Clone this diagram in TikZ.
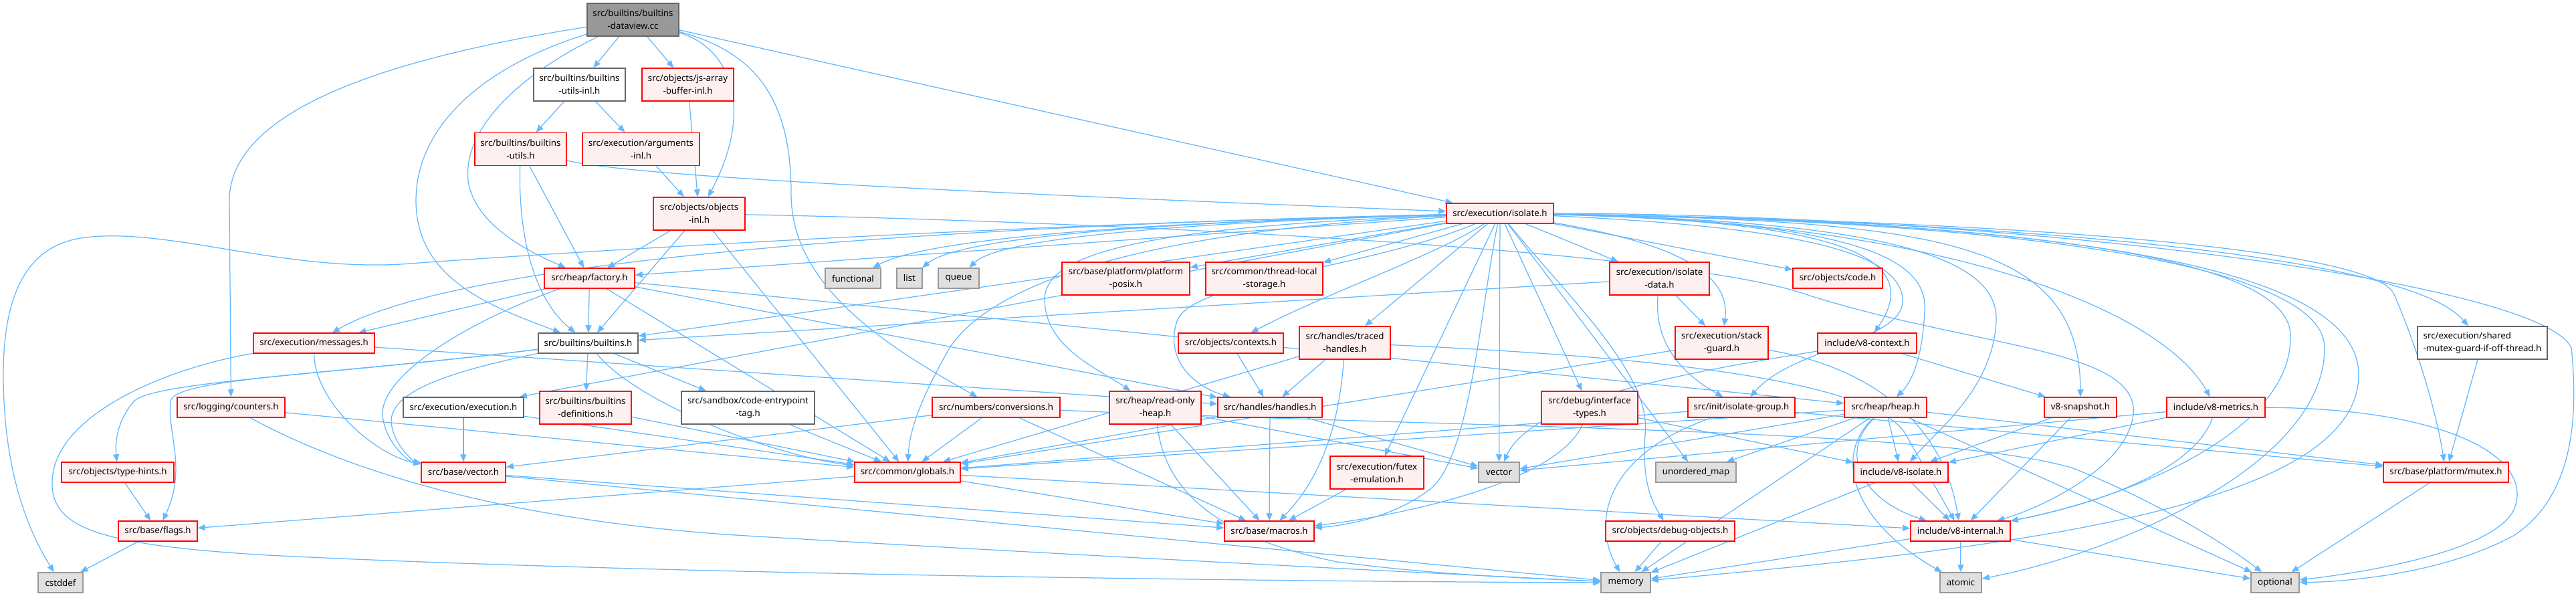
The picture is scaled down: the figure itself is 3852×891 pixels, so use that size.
\documentclass[tikz,border=0pt]{standalone}
\usepackage{fontspec}
\newfontfamily\nf{Noto Sans}
\usetikzlibrary{arrows.meta}
\definecolor{edgec}{HTML}{63B8FF}
\definecolor{hdrfill}{HTML}{FFF0F0}
\definecolor{hdrdraw}{HTML}{FF0000}
\definecolor{sysfill}{HTML}{E0E0E0}
\definecolor{sysdraw}{HTML}{999999}
\definecolor{docdraw}{HTML}{666666}
\definecolor{rootfill}{HTML}{999999}
\pgfdeclarelayer{bg}
\pgfsetlayers{bg,main}
\newcommand\nodefont{\nf\fontsize{13.3pt}{19pt}\selectfont}
\tikzset{
  box/.style={rectangle, inner sep=0pt, line width=1.5pt, font=\nodefont, align=center},
  hdr/.style={box, draw=hdrdraw, fill=hdrfill},
  sys/.style={box, draw=sysdraw, fill=sysfill},
  doc/.style={box, draw=docdraw, fill=white},
  rootn/.style={box, draw=docdraw, fill=rootfill},
  e/.style={draw=edgec, line width=1.25pt, -{Triangle[length=11pt,width=9pt]}},
}
\begin{document}
\begin{tikzpicture}[x=1pt,y=-1pt]
\useasboundingbox (0,0) rectangle (3852,891);
% row 0
\node[rootn, minimum width=137pt, minimum height=49pt] (root) at (946.5,29.5) {src/builtins/builtins\\-dataview.cc};
% row 1
\node[doc, minimum width=137pt, minimum height=49pt] (bui) at (866.5,126.5) {src/builtins/builtins\\-utils-inl.h};
\node[hdr, minimum width=137pt, minimum height=49pt] (jsab) at (1028.5,126.5) {src/objects/js-array\\-buffer-inl.h};
% row 2
\node[hdr, minimum width=137pt, minimum height=49pt] (bu) at (778.5,223) {src/builtins/builtins\\-utils.h};
\node[hdr, minimum width=175pt, minimum height=49pt] (argi) at (958.5,223) {src/execution/arguments\\-inl.h};
% row 3
\node[hdr, minimum width=137pt, minimum height=49pt] (objinl) at (1045.5,319.5) {src/objects/objects\\-inl.h};
\node[hdr, minimum width=160pt, minimum height=30pt] (isolate) at (2243,319) {src/execution/isolate.h};
% row 4
\node[hdr, minimum width=135pt, minimum height=30pt] (factory) at (881.5,416) {src/heap/factory.h};
\node[sys, minimum width=83pt, minimum height=30pt] (functional) at (1275.5,416) {functional};
\node[sys, minimum width=38pt, minimum height=30pt] (list) at (1360,416) {list};
\node[sys, minimum width=61pt, minimum height=30pt] (queue) at (1433.5,416) {queue};
\node[hdr, minimum width=191pt, minimum height=49pt] (posix) at (1683.5,416.5) {src/base/platform/platform\\-posix.h};
\node[hdr, minimum width=175pt, minimum height=49pt] (tls) at (1890.5,416.5) {src/common/thread-local\\-storage.h};
\node[hdr, minimum width=149pt, minimum height=49pt] (isodata) at (2481.5,416.5) {src/execution/isolate\\-data.h};
\node[hdr, minimum width=134pt, minimum height=30pt] (code) at (2748,416) {src/objects/code.h};
% row 5
\node[hdr, minimum width=181pt, minimum height=30pt] (messages) at (469.5,513) {src/execution/messages.h};
\node[doc, minimum width=149pt, minimum height=30pt] (builtins) at (879.5,513) {src/builtins/builtins.h};
\node[hdr, minimum width=157pt, minimum height=30pt] (contexts) at (1840.5,513) {src/objects/contexts.h};
\node[hdr, minimum width=136pt, minimum height=49pt] (traced) at (2011,512.5) {src/handles/traced\\-handles.h};
\node[hdr, minimum width=139pt, minimum height=49pt] (stackguard) at (2574.5,512.5) {src/execution/stack\\-guard.h};
\node[hdr, minimum width=148pt, minimum height=30pt] (v8context) at (2792,513) {include/v8-context.h};
\node[doc, minimum width=194pt, minimum height=49pt, align=left] (smg) at (3712,512.5) {src/execution/shared\\-mutex-guard-if-off-thread.h};
% row 6
\node[hdr, minimum width=161pt, minimum height=30pt] (counters) at (345.5,609) {src/logging/counters.h};
\node[doc, minimum width=180pt, minimum height=30pt] (execution) at (693,609) {src/execution/execution.h};
\node[hdr, minimum width=137pt, minimum height=49pt] (bdefs) at (875.5,609.5) {src/builtins/builtins\\-definitions.h};
\node[doc, minimum width=199pt, minimum height=49pt] (cetag) at (1118.5,609.5) {src/sandbox/code-entrypoint\\-tag.h};
\node[hdr, minimum width=191pt, minimum height=30pt] (conv) at (1489.5,609) {src/numbers/conversions.h};
\node[hdr, minimum width=137pt, minimum height=49pt] (rohep) at (1727.5,609.5) {src/heap/read-only\\-heap.h};
\node[hdr, minimum width=156pt, minimum height=30pt] (handles) at (1899,609) {src/handles/handles.h};
\node[hdr, minimum width=144pt, minimum height=49pt] (ditypes) at (2377,609.5) {src/debug/interface\\-types.h};
\node[hdr, minimum width=160pt, minimum height=30pt] (isogroup) at (2604,609) {src/init/isolate-group.h};
\node[hdr, minimum width=123pt, minimum height=30pt] (heap) at (2819.5,609) {src/heap/heap.h};
\node[hdr, minimum width=108pt, minimum height=30pt] (snapshot) at (3111,609) {v8-snapshot.h};
\node[hdr, minimum width=147pt, minimum height=30pt] (metrics) at (3313.5,609) {include/v8-metrics.h};
% row 7
\node[hdr, minimum width=168pt, minimum height=30pt] (typehints) at (176,706) {src/objects/type-hints.h};
\node[hdr, minimum width=126pt, minimum height=30pt] (vectorh) at (693,706) {src/base/vector.h};
\node[hdr, minimum width=158pt, minimum height=30pt] (globals) at (1357,706) {src/common/globals.h};
\node[hdr, minimum width=140pt, minimum height=49pt] (futex) at (2059,706.5) {src/execution/futex\\-emulation.h};
\node[sys, minimum width=61pt, minimum height=30pt] (vector) at (2241.5,706) {vector};
\node[sys, minimum width=120pt, minimum height=30pt] (umap) at (2536,706) {unordered\_map};
\node[hdr, minimum width=141pt, minimum height=30pt] (v8isolate) at (2842.5,706) {include/v8-isolate.h};
\node[hdr, minimum width=187pt, minimum height=30pt] (mutex) at (3657.5,706) {src/base/platform/mutex.h};
% row 8
\node[hdr, minimum width=118pt, minimum height=30pt] (flags) at (236,794) {src/base/flags.h};
\node[hdr, minimum width=134pt, minimum height=30pt] (macros) at (1898,794) {src/base/macros.h};
\node[hdr, minimum width=193pt, minimum height=30pt] (dobj) at (2497.5,794) {src/objects/debug-objects.h};
\node[hdr, minimum width=149pt, minimum height=30pt] (v8internal) at (2931.5,794) {include/v8-internal.h};
% row 9
\node[sys, minimum width=67pt, minimum height=30pt] (cstddef) at (90.5,871) {cstddef};
\node[sys, minimum width=74pt, minimum height=30pt] (memory) at (2431,871) {memory};
\node[sys, minimum width=62pt, minimum height=30pt] (atomic) at (2932,871) {atomic};
\node[sys, minimum width=72pt, minimum height=30pt] (optional) at (3402,871) {optional};

\begin{pgfonlayer}{bg}
% root
\draw[e] (root) -- (bui);
\draw[e] (root) -- (jsab);
\draw[e] (root) .. controls (560,90) and (343,170) .. (343,300) -- (counters);
\draw[e] (root) .. controls (720,100) and (622,190) .. (622,300) .. controls (622,420) and (740,460) .. (builtins);
\draw[e] (root) .. controls (780,110) and (692,190) .. (700,270) .. controls (710,340) and (800,380) .. (factory);
\draw[e] (root) .. controls (1090,70) and (1130,160) .. (objinl);
\draw[e] (root) .. controls (1140,80) and (1183,160) .. (1183,290) .. controls (1183,430) and (1330,520) .. (conv);
\draw[e] (root) -- (isolate);
% level 1-2
\draw[e] (bui) -- (bu);
\draw[e] (bui) -- (argi);
\draw[e] (jsab) -- (objinl);
\draw[e] (argi) -- (objinl);
\draw[e] (bu) -- (factory);
\draw[e] (bu) .. controls (775,330) and (790,440) .. (builtins);
\draw[e] (bu) .. controls (950,265) and (1500,290) .. (isolate);
% objects-inl
\draw[e] (objinl) -- (factory);
\draw[e] (objinl) -- (builtins);
\draw[e] (objinl) -- (globals);
\draw[e] (objinl) .. controls (1600,330) and (2500,370) .. (2700,440) .. controls (2950,520) and (3200,520) .. (3190,620) .. controls (3180,700) and (3050,760) .. (v8internal);
% isolate
\draw[e] (isolate) .. controls (1500,335) and (800,380) .. (600,395) .. controls (420,405) and (250,340) .. (128,355) .. controls (40,365) and (5,440) .. (5,560) .. controls (5,700) and (40,790) .. (cstddef);
\draw[e] (isolate) .. controls (1800,330) and (1400,350) .. (functional);
\draw[e] (isolate) .. controls (1800,330) and (1440,350) .. (list);
\draw[e] (isolate) .. controls (1850,330) and (1500,350) .. (queue);
\draw[e] (isolate) -- (posix);
\draw[e] (isolate) -- (tls);
\draw[e] (isolate) .. controls (1500,335) and (700,380) .. (messages);
\draw[e] (isolate) -- (factory);
\draw[e] (isolate) -- (builtins);
\draw[e] (isolate) -- (execution);
\draw[e] (isolate) .. controls (2150,380) and (1980,440) .. (contexts);
\draw[e] (isolate) -- (traced);
\draw[e] (isolate) .. controls (2050,400) and (1780,420) .. (1760,480) .. controls (1740,540) and (1790,580) .. (handles);
\draw[e] (isolate) .. controls (1700,340) and (1560,380) .. (1562,450) .. controls (1565,520) and (1640,550) .. (rohep);
\draw[e] (isolate) .. controls (1800,340) and (1500,400) .. (1420,520) .. controls (1380,590) and (1360,640) .. (globals);
\draw[e] (isolate) -- (futex);
\draw[e] (isolate) -- (vector);
\draw[e] (isolate) .. controls (2215,450) and (2200,680) .. (2140,730) .. controls (2090,770) and (2020,785) .. (macros);
\draw[e] (isolate) -- (ditypes);
\draw[e] (isolate) -- (umap);
\draw[e] (isolate) -- (isodata);
\draw[e] (isolate) .. controls (2480,360) and (2590,400) .. (stackguard);
\draw[e] (isolate) -- (code);
\draw[e] (isolate) .. controls (2700,340) and (2845,380) .. (2845,450) .. controls (2845,510) and (2680,520) .. (isogroup);
\draw[e] (isolate) .. controls (2750,330) and (2880,380) .. (2878,460) .. controls (2876,530) and (2860,570) .. (heap);
\draw[e] (isolate) .. controls (2700,330) and (2890,370) .. (v8context);
\draw[e] (isolate) .. controls (2800,330) and (2990,380) .. (2985,480) .. controls (2980,580) and (2900,640) .. (v8isolate);
\draw[e] (isolate) .. controls (2900,330) and (3110,360) .. (snapshot);
\draw[e] (isolate) .. controls (2900,330) and (3230,460) .. (metrics);
\draw[e] (isolate) .. controls (3000,330) and (3550,370) .. (3580,440) .. controls (3610,510) and (3640,600) .. (mutex);
\draw[e] (isolate) .. controls (3000,330) and (3600,380) .. (smg);
\draw[e] (isolate) .. controls (3000,320) and (3800,420) .. (3845,520) .. controls (3855,620) and (3850,740) .. (3760,800) .. controls (3650,860) and (3500,870) .. (optional);
\draw[e] (isolate) .. controls (3000,330) and (3420,380) .. (3425,500) .. controls (3430,640) and (3200,740) .. (v8internal);
\draw[e] (isolate) .. controls (3050,330) and (3476,400) .. (3476,520) .. controls (3476,700) and (3150,830) .. (atomic);
\draw[e] (isolate) .. controls (3100,330) and (3527,400) .. (3527,560) .. controls (3527,760) and (3000,820) .. (memory);
\draw[e] (isolate) .. controls (2350,450) and (2470,560) .. (2460,650) .. controls (2455,720) and (2470,750) .. (dobj);
% factory
\draw[e] (factory) -- (messages);
\draw[e] (factory) -- (builtins);
\draw[e] (factory) .. controls (700,480) and (570,560) .. (572,620) .. controls (575,660) and (610,690) .. (vectorh);
\draw[e] (factory) -- (globals);
\draw[e] (factory) -- (handles);
\draw[e] (factory) -- (heap);
% messages
\draw[e] (messages) .. controls (470,600) and (560,680) .. (vectorh);
\draw[e] (messages) -- (handles);
\draw[e] (messages) .. controls (250,550) and (80,620) .. (78,720) .. controls (76,790) and (150,815) .. (400,830) .. controls (1000,860) and (2000,870) .. (memory);
% builtins
\draw[e] (builtins) .. controls (500,560) and (230,570) .. (200,600) .. controls (175,630) and (172,660) .. (typehints);
\draw[e] (builtins) .. controls (500,560) and (260,565) .. (255,600) .. controls (250,650) and (280,700) .. (flags);
\draw[e] (builtins) .. controls (650,560) and (585,590) .. (585,630) .. controls (587,665) and (620,690) .. (vectorh);
\draw[e] (builtins) -- (bdefs);
\draw[e] (builtins) -- (cetag);
\draw[e] (builtins) .. controls (950,600) and (1150,680) .. (globals);
% row 6 sources
\draw[e] (bdefs) -- (globals);
\draw[e] (cetag) -- (globals);
\draw[e] (counters) -- (globals);
\draw[e] (counters) .. controls (550,720) and (800,780) .. (1100,800) .. controls (1600,830) and (2200,860) .. (memory);
\draw[e] (execution) -- (vectorh);
\draw[e] (execution) -- (globals);
\draw[e] (conv) -- (vectorh);
\draw[e] (conv) -- (globals);
\draw[e] (conv) -- (macros);
\draw[e] (conv) .. controls (2200,640) and (2900,640) .. (3100,700) .. controls (3250,760) and (3350,830) .. (optional);
\draw[e] (rohep) -- (macros);
\draw[e] (rohep) .. controls (1740,720) and (1800,800) .. (2000,840) .. controls (2150,860) and (2300,865) .. (memory);
\draw[e] (rohep) -- (vector);
\draw[e] (handles) -- (macros);
\draw[e] (handles) -- (globals);
\draw[e] (handles) -- (vector);
\draw[e] (contexts) -- (handles);
\draw[e] (traced) -- (handles);
\draw[e] (traced) .. controls (2005,600) and (1990,700) .. (macros);
\draw[e] (traced) -- (globals);
\draw[e] (traced) .. controls (2400,530) and (2800,560) .. (2850,650) -- (v8internal);
\draw[e] (isodata) -- (stackguard);
\draw[e] (isodata) .. controls (2474,500) and (2500,550) .. (isogroup);
\draw[e] (isodata) -- (builtins);
\draw[e] (stackguard) -- (globals);
\draw[e] (stackguard) .. controls (2750,540) and (2900,600) .. (v8internal);
\draw[e] (v8context) -- (snapshot);
\draw[e] (v8context) .. controls (2500,560) and (2290,600) .. (vector);
\draw[e] (heap) -- (globals);
\draw[e] (heap) -- (vector);
\draw[e] (heap) -- (umap);
\draw[e] (heap) -- (v8isolate);
\draw[e] (heap) .. controls (2745,680) and (2790,750) .. (v8internal);
\draw[e] (heap) -- (memory);
\draw[e] (heap) .. controls (2740,680) and (2770,780) .. (atomic);
\draw[e] (heap) -- (optional);
\draw[e] (heap) -- (mutex);
\draw[e] (isogroup) -- (globals);
\draw[e] (isogroup) .. controls (2400,680) and (2380,780) .. (memory);
\draw[e] (isogroup) -- (mutex);
\draw[e] (ditypes) .. controls (2330,720) and (2100,770) .. (macros);
\draw[e] (ditypes) -- (v8isolate);
\draw[e] (futex) -- (macros);
\draw[e] (dobj) -- (memory);
\draw[e] (v8isolate) -- (v8internal);
\draw[e] (v8isolate) -- (memory);
\draw[e] (v8internal) -- (memory);
\draw[e] (v8internal) -- (atomic);
\draw[e] (v8internal) -- (optional);
\draw[e] (snapshot) -- (v8isolate);
\draw[e] (snapshot) -- (v8internal);
\draw[e] (metrics) -- (v8isolate);
\draw[e] (metrics) .. controls (3290,680) and (3200,740) .. (v8internal);
\draw[e] (metrics) -- (vector);
\draw[e] (metrics) .. controls (3650,610) and (3790,680) .. (3760,760) .. controls (3730,830) and (3500,860) .. (optional);
\draw[e] (mutex) -- (optional);
\draw[e] (smg) -- (mutex);
\draw[e] (vectorh) -- (macros);
\draw[e] (vectorh) -- (memory);
\draw[e] (globals) -- (flags);
\draw[e] (globals) -- (macros);
\draw[e] (globals) -- (v8internal);
\draw[e] (flags) -- (cstddef);
\draw[e] (typehints) -- (flags);
\end{pgfonlayer}
\end{tikzpicture}
\end{document}
